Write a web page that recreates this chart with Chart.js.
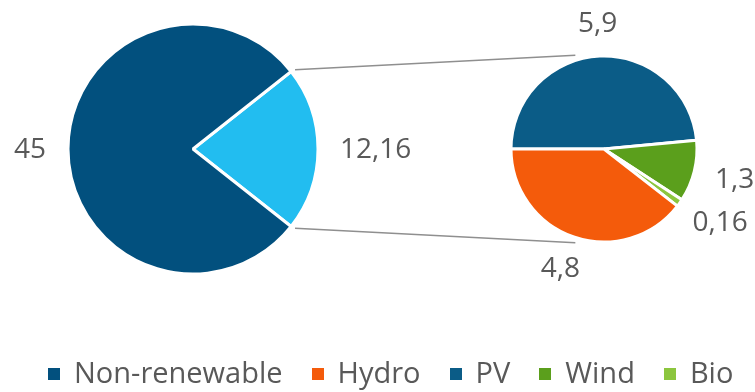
<!DOCTYPE html>
<html lang="en">
<head>
<meta charset="UTF-8">
<title>Electricity mix</title>
<script src="https://cdn.jsdelivr.net/npm/chart.js@4.4.1/dist/chart.umd.min.js"></script>
<style>
    body { margin: 0; background: #fff; }
    #wrap { position: relative; width: 755px; height: 392px; overflow: hidden; }
    #wrap canvas { position: absolute; left: 0; top: 0; }
    #legend {
        position: absolute; left: 48px; top: 353px;
        display: flex; align-items: center; white-space: nowrap;
        font-family: "Open Sans"; font-size: 29px; line-height: 38px; color: #595959;
    }
    .item { display: flex; align-items: center; margin-right: 29px; }
    .box { width: 12px; height: 12px; margin-right: 14px; margin-top: 4px; }
</style>
</head>
<body>
<div id="wrap">
    <canvas id="mainPie" width="755" height="392"></canvas>
    <canvas id="subPie" width="755" height="392"></canvas>
    <div id="legend"></div>
</div>

<script>
// main pie: renewable share is split out into the small pie
const mainLabels = ["Renewable", "Non-renewable"];
const mainValues = [12.16, 45];
const mainColors = ["#22bdf0", "#02507e"];

// small pie: breakdown of renewables
const subLabels = ["PV", "Wind", "Bio", "Hydro"];
const subValues = [5.9, 1.3, 0.16, 4.8];
const subColors = ["#0b5c87", "#5b9f1c", "#8cc63e", "#f45b0b"];

const legendOrder = ["Non-renewable", "Hydro", "PV", "Wind", "Bio"];

function fmt(v) {
    return String(v).replace(".", ",");
}

// value labels just outside each slice
const outsideLabels = {
    id: "outsideLabels",
    afterDatasetsDraw(chart, args, opts) {
        const ctx = chart.ctx;
        const values = chart.data.datasets[0].data;
        ctx.save();
        ctx.font = "28px 'Open Sans'";
        ctx.fillStyle = "#595959";
        ctx.textAlign = "center";
        ctx.textBaseline = "middle";
        chart.getDatasetMeta(0).data.forEach((arc, i) => {
            const p = arc.getProps(["x", "y", "startAngle", "endAngle", "outerRadius"], true);
            const mid = (p.startAngle + p.endAngle) / 2;
            const txt = fmt(values[i]);
            const w = ctx.measureText(txt).width;
            const r = p.outerRadius + opts.offset;
            const x = p.x + Math.cos(mid) * (r + w / 2);
            const y = p.y + Math.sin(mid) * r + Math.sin(mid) * 11;
            ctx.fillText(txt, x, y + 1);
        });
        ctx.restore();
    }
};

const mainTotal = mainValues.reduce((a, b) => a + b, 0);

const mainChart = new Chart(document.getElementById("mainPie"), {
    type: "pie",
    data: {
        labels: mainLabels,
        datasets: [{
            data: mainValues,
            backgroundColor: mainColors,
            borderColor: "#ffffff",
            borderWidth: 3
        }]
    },
    options: {
        responsive: false,
        animation: false,
        rotation: 90 - mainValues[0] / mainTotal * 180,
        radius: 125,
        layout: { padding: { left: 0, right: 369, top: 0, bottom: 94 } },
        plugins: {
            legend: { display: false },
            tooltip: { enabled: false },
            outsideLabels: { offset: 22 }
        }
    },
    plugins: [outsideLabels]
});

// lines from the split slice of the big pie to the small pie
const connectors = {
    id: "connectors",
    beforeDatasetsDraw(chart) {
        const ctx = chart.ctx;
        const big = mainChart.getDatasetMeta(0).data[0].getProps(["x", "y", "startAngle", "endAngle", "outerRadius"], true);
        const small = chart.getDatasetMeta(0).data[0].getProps(["x", "y", "outerRadius"], true);
        const join = 107 * Math.PI / 180;
        const pairs = [[big.startAngle, -join], [big.endAngle, join]];
        ctx.save();
        ctx.strokeStyle = "#8f8f8f";
        ctx.lineWidth = 1.5;
        pairs.forEach(([a, b]) => {
            ctx.beginPath();
            ctx.moveTo(big.x + Math.cos(a) * (big.outerRadius + 5), big.y + Math.sin(a) * (big.outerRadius + 3));
            ctx.lineTo(small.x + Math.cos(b) * (small.outerRadius + 5), small.y + Math.sin(b) * (small.outerRadius + 5));
            ctx.stroke();
        });
        ctx.restore();
    }
};

const subChart = new Chart(document.getElementById("subPie"), {
    type: "pie",
    data: {
        labels: subLabels,
        datasets: [{
            data: subValues,
            backgroundColor: subColors,
            borderColor: "#ffffff",
            borderWidth: 3
        }]
    },
    options: {
        responsive: false,
        animation: false,
        rotation: -90,
        radius: 93,
        layout: { padding: { left: 453, right: 0, top: 0, bottom: 94 } },
        plugins: {
            legend: { display: false },
            tooltip: { enabled: false },
            outsideLabels: { offset: 22 }
        }
    },
    plugins: [connectors, outsideLabels]
});

// legend
const legend = document.getElementById("legend");
legendOrder.forEach(name => {
    const color = name === mainLabels[1] ? mainColors[1] : subColors[subLabels.indexOf(name)];
    const item = document.createElement("div");
    item.className = "item";
    item.innerHTML = `<span class="box" style="background:${color}"></span><span>${name}</span>`;
    legend.appendChild(item);
});
</script>
</body>
</html>
